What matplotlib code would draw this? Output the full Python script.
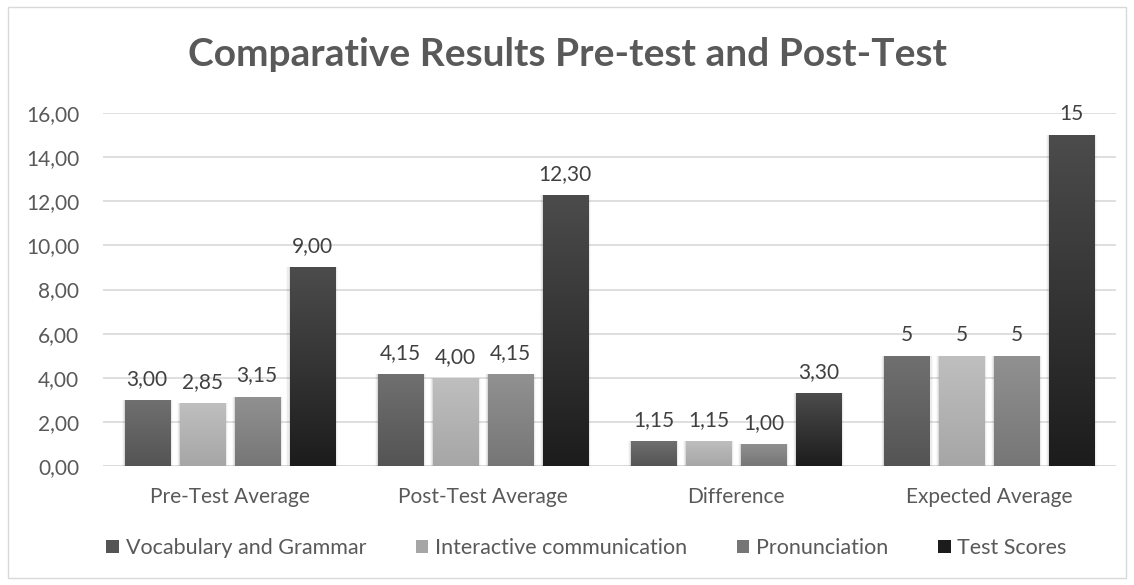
import matplotlib.pyplot as plt
import numpy as np
from matplotlib.colors import LinearSegmentedColormap
from matplotlib.patches import Rectangle

categories = ['Pre-Test Average', 'Post-Test Average', 'Difference', 'Expected Average']
series = ['Vocabulary and Grammar', 'Interactive communication', 'Pronunciation', 'Test Scores']
values = [
    [3.00, 4.15, 1.15, 5],
    [2.85, 4.00, 1.15, 5],
    [3.15, 4.15, 1.00, 5],
    [9.00, 12.30, 3.30, 15],
]
labels = [
    ['3,00', '4,15', '1,15', '5'],
    ['2,85', '4,00', '1,15', '5'],
    ['3,15', '4,15', '1,00', '5'],
    ['9,00', '12,30', '3,30', '15'],
]
yticks = [0, 2, 4, 6, 8, 10, 12, 14, 16]

# top / bottom shade of each series
shades = [('#707070', '#545454'), ('#bfbfbf', '#a6a6a6'),
          ('#919191', '#767676'), ('#4c4c4c', '#1c1c1c')]

text_color = '#595959'
plt.rcParams['font.family'] = ['Lato', 'DejaVu Sans']

fig = plt.figure(figsize=(11.34, 5.85), dpi=100)
fig.patches.append(Rectangle((8 / 1134, 7 / 585), 1118 / 1134, 571 / 585, transform=fig.transFigure,
                             fill=False, edgecolor='#d9d9d9', linewidth=1))
ax = fig.add_axes([103 / 1134, 119 / 585, 1013 / 1134, 353 / 585])

x = np.arange(len(categories))
width = 0.178
step = 0.217
offsets = (np.arange(len(series)) - 1.5) * step

ax.set_xlim(-0.5, len(categories) - 0.5)
ax.set_ylim(0, 16)

for i, name in enumerate(series):
    top, bottom = shades[i]
    cmap = LinearSegmentedColormap.from_list(name, [bottom, top])
    bars = ax.bar(x + offsets[i], values[i], width, color=shades[i][1], label=name, zorder=3)
    for bar, lab in zip(bars, labels[i]):
        bx, bw, bh = bar.get_x(), bar.get_width(), bar.get_height()
        # soft shadow at the sides
        for k, a in enumerate([0.08, 0.05, 0.025]):
            d = 0.004 * (k + 1)
            ax.add_patch(Rectangle((bx - d, 0), bw + 2 * d, bh, facecolor='black',
                                   alpha=a, linewidth=0, zorder=2))
        grad = np.linspace(0, 1, 256).reshape(-1, 1)
        im = ax.imshow(grad, cmap=cmap, origin='lower', aspect='auto',
                       extent=[bx, bx + bw, 0, bh], zorder=4)
        im.set_clip_path(bar)
        ax.text(bx + bw / 2, bh + 0.5, lab, ha='center', va='bottom',
                fontsize=15, color='#404040', zorder=5)

ax.set_xlim(-0.5, len(categories) - 0.5)
ax.set_ylim(0, 16)
ax.set_yticks(yticks)
ax.set_yticklabels([f'{t:.2f}'.replace('.', ',') for t in yticks])
ax.set_xticks(x)
ax.set_xticklabels(categories)
ax.tick_params(axis='both', length=0, labelsize=15, labelcolor=text_color)
ax.tick_params(axis='y', pad=17)
ax.tick_params(axis='x', pad=15)
ax.grid(axis='y', color='#d9d9d9', linewidth=1.2, zorder=0)
for s in ax.spines.values():
    s.set_visible(False)
ax.axhline(0, color='#d9d9d9', linewidth=1.2, zorder=1)

fig.text(0.5, 0.907, 'Comparative Results Pre-test and Post-Test', ha='center', va='center',
         fontsize=28, fontweight='bold', color=text_color)

handles = [Rectangle((0, 0), 1, 1, facecolor=shades[i][1], edgecolor='none') for i in range(len(series))]
fig.legend(handles, series, loc='center', bbox_to_anchor=(0.517, 0.063), ncol=4, frameon=False,
           fontsize=15.5, labelcolor=text_color, handlelength=0.6, handleheight=0.6,
           handletextpad=0.3, columnspacing=2.3)

fig.savefig('out.png', dpi=100)
